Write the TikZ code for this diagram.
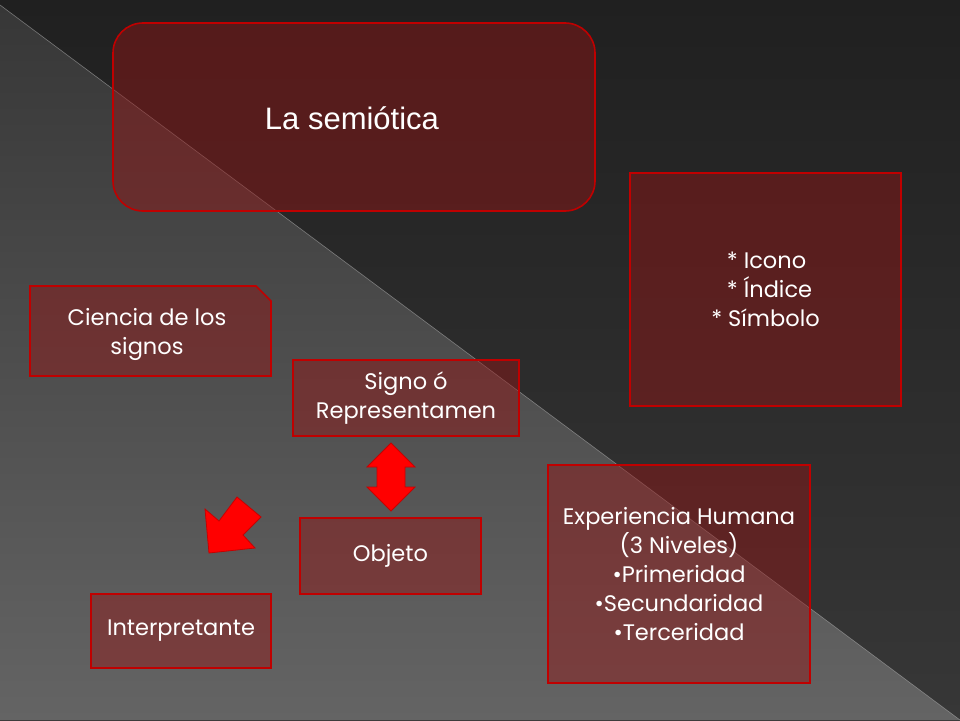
\documentclass[tikz,border=0pt]{standalone}
\usepackage{fontspec}
\setmainfont{Liberation Sans}
\newfontfamily\gothic{Poppins}
\usetikzlibrary{shapes.misc}
\definecolor{bord}{RGB}{192,0,0}
\definecolor{arr}{RGB}{255,0,0}
\tikzset{
 box/.style={draw=bord,line width=1.6pt,fill={rgb,255:red,150;green,20;blue,20},fill opacity=0.45,text opacity=1,text=white,align=center,font=\gothic\fontsize{22.5}{29}\selectfont},
 bigarrow/.style={fill=arr,draw={rgb,255:red,200;green,0;blue,0},line width=0.8pt,line join=miter}
}
\begin{document}
\begin{tikzpicture}[x=1pt,y=-1pt]
\useasboundingbox (0,0) rectangle (960,720);
\fill[top color={rgb,255:red,32;green,32;blue,32},bottom color={rgb,255:red,55;green,55;blue,55}] (0,0) rectangle (960,720);
\shade[top color={rgb,255:red,55;green,55;blue,55},bottom color={rgb,255:red,100;green,100;blue,100}] (0,5) -- (960,720) -- (0,720) -- cycle;
\draw[gray!70,line width=0.6pt,opacity=0.6] (0,5) -- (960,720);
% title
\path[box,rounded corners=30pt] (113,23) rectangle (595,211);
\node[text=white,font=\fontsize{31}{36}\selectfont] (t) at (352,118) {La semiótica};
% Ciencia (snipped corner)
\path[box] (30,286) -- (256,286) -- (271,301) -- (271,376) -- (30,376) -- cycle;
\node[text=white,align=center,font=\gothic\fontsize{22.5}{29}\selectfont] (c) at (147,334) {Ciencia de los\\signos};
\node[box,minimum width=226pt,minimum height=76pt] (s) at (406,398) {Signo ó\\Representamen};
\node[box,minimum width=271pt,minimum height=233pt] (i) at (765.5,289.5) {\hspace*{2pt}* Icono\\\hspace*{8pt}* Índice\\* Símbolo};
\node[box,minimum width=181pt,minimum height=76pt] (o) at (390.5,556) {Objeto};
\node[box,minimum width=180pt,minimum height=74pt] (ip) at (181,631) {Interpretante};
\node[box,minimum width=262pt,minimum height=218pt] (e) at (679,574) {Experiencia Humana\\(3 Niveles)\\\textbullet Primeridad\\\textbullet Secundaridad\\\textbullet Terceridad};
% arrows
\path[bigarrow] (391,443) -- (415,467) -- (405,467) -- (405,487) -- (415,487) -- (391,511) -- (367,487) -- (377,487) -- (377,467) -- (367,467) -- cycle;
\path[bigarrow] (209,553) -- (205,509) -- (219,521) -- (237,497) -- (261,517) -- (243,535) -- (255,548) -- cycle;
\end{tikzpicture}
\end{document}
